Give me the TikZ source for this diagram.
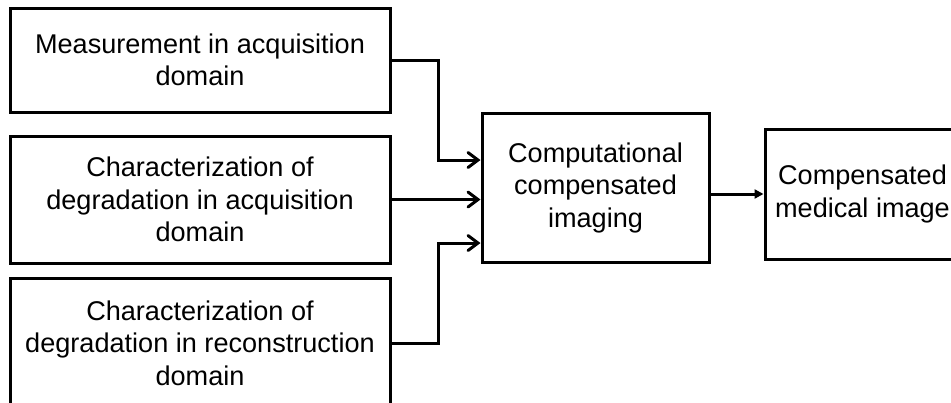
\documentclass[tikz,border=0pt]{standalone}
\usepackage{fontspec}
\setmainfont{Liberation Sans}
\usetikzlibrary{arrows.meta}
\begin{document}
\begin{tikzpicture}[x=1pt,y=-1pt,
  box/.style={draw, line width=3pt, align=center, inner sep=0pt,
    font=\fontsize{27.1}{32.5}\selectfont},
  conn/.style={line width=3pt, -{Straight Barb[length=10pt,width=15pt,line cap=round]}},
  connf/.style={line width=3pt, -{Triangle[length=9pt,width=9pt]}}]
\clip (0,0) rectangle (951,402);
\node[box, minimum width=380pt, minimum height=104pt] (b1) at (200,60)
  {Measurement in acquisition\\domain};
\node[box, minimum width=380pt, minimum height=127pt] (b2) at (200,199.5)
  {Characterization of\\degradation in acquisition\\domain};
\node[box, minimum width=380pt, minimum height=130pt] (b3) at (200,343)
  {Characterization of\\degradation in reconstruction\\domain};
\node[box, minimum width=227pt, minimum height=149pt] (mid) at (595.5,187.5)
  {Computational\\compensated\\imaging};
\node[box, minimum width=195pt, minimum height=130pt] (out) at (862.5,194)
  {Compensated\\medical image};
\coordinate (j1) at (438,160);
\coordinate (j3) at (438,243);
\draw[conn] (b1.east) -| (j1) -- (j1 -| mid.west);
\draw[conn] (b2.east) -- (b2.east -| mid.west);
\draw[conn] (b3.east) -| (j3) -- (j3 -| mid.west);
\draw[connf] (out.west -| mid.east) -- (out.west);
\end{tikzpicture}
\end{document}
